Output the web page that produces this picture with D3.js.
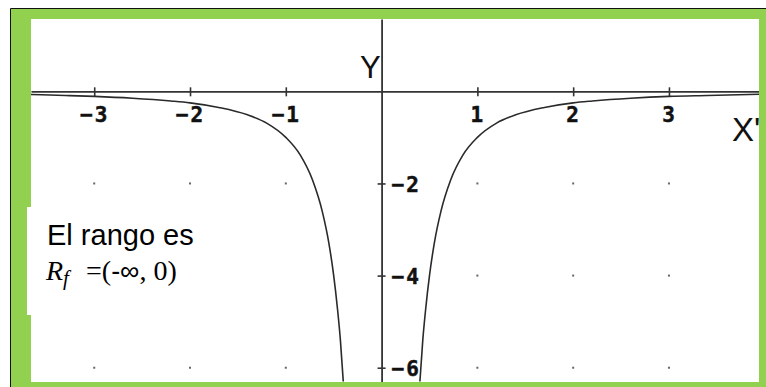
<!DOCTYPE html>
<html>
<head>
<meta charset="utf-8">
<script src="https://cdn.jsdelivr.net/npm/d3@7"></script>
<style>
  body { margin: 0; background: #fff; }
  svg { display: block; }
</style>
</head>
<body>
<svg id="chart" width="766" height="387"></svg>
<script>
// tick values
const xTicks = [-3, -2, -1, 1, 2, 3]
const yTicks = [-2, -4, -6]

// points, left branch (x < 0) and right branch (x > 0)
const leftX = [-3.66, -3.3, -3, -2.6, -2.2, -2, -1.7, -1.4, -1.2, -1, -0.85, -0.72, -0.62, -0.55, -0.5, -0.46, -0.43, -0.4]
const leftY = [-0.07, -0.09, -0.11, -0.15, -0.21, -0.25, -0.35, -0.51, -0.69, -1.0, -1.38, -1.93, -2.6, -3.3, -4.0, -4.73, -5.4, -6.3]
const rightX = [0.4, 0.43, 0.46, 0.5, 0.55, 0.62, 0.72, 0.85, 1, 1.2, 1.4, 1.7, 2, 2.2, 2.6, 3, 3.4, 3.94]
const rightY = [-6.3, -5.4, -4.73, -4.0, -3.3, -2.6, -1.93, -1.38, -1.0, -0.69, -0.51, -0.35, -0.25, -0.21, -0.15, -0.11, -0.09, -0.065]

const svg = d3.select('#chart')

// outer frame: thin black edge, green border, white plot area
svg.append('path')
    .attr('d', 'M10.5,387 V8.5 H766')
    .attr('fill', 'none')
    .attr('stroke', '#111')
    .attr('stroke-width', 1)
svg.append('rect')
    .attr('x', 11).attr('y', 9).attr('width', 755).attr('height', 378)
    .attr('fill', '#92d050')
svg.append('rect')
    .attr('x', 31).attr('y', 19).attr('width', 728).attr('height', 363)
    .attr('fill', '#fff')

let x = d3.scaleLinear().domain([-3.66, 3.94]).range([31, 759]),
    y = d3.scaleLinear().domain([1.57, -6.31]).range([19, 382])

svg.append('clipPath').attr('id', 'plot')
    .append('rect').attr('x', 31).attr('y', 19).attr('width', 728).attr('height', 363)

const g = svg.append('g').attr('clip-path', 'url(#plot)')

// grid dots
let dots = []
xTicks.forEach(a => yTicks.forEach(b => dots.push([a, b])))
g.append('g')
    .selectAll('rect')
    .data(dots)
    .enter()
    .append('rect')
    .attr('x', d => x(d[0]) - 1)
    .attr('y', d => y(d[1]) - 1)
    .attr('width', 2)
    .attr('height', 2)
    .attr('fill', '#666')

// text box (covers part of the border, like the overlay in the original)
svg.append('rect')
    .attr('x', 27).attr('y', 207).attr('width', 283).attr('height', 108)
    .attr('fill', '#fff')

const tickFont = s => s
    .attr('font-family', '"DejaVu Sans Mono", monospace')
    .attr('font-weight', 'bold')
    .attr('font-size', 21)
    .attr('letter-spacing', 2)
    .attr('fill', '#111')
    .attr('stroke', '#111')
    .attr('stroke-width', 0.5)

// axes
let xAxis = g.append('g')
    .attr('transform', `translate(0,${y(0)})`)
    .call(d3.axisBottom(x).tickValues(xTicks).tickSize(5).tickSizeOuter(0))
xAxis.select('.domain').attr('stroke', '#333').attr('stroke-width', 1.8)
xAxis.selectAll('.tick line').attr('y1', -4).attr('stroke', '#333').attr('stroke-width', 1.6)
xAxis.selectAll('.tick text')
    .text(d => d < 0 ? '\u2212' + Math.abs(d) : d)
    .attr('x', 0)
    .attr('y', 31)
    .attr('dy', null)
    .call(tickFont)

let yAxis = g.append('g')
    .attr('transform', `translate(${x(0)},0)`)
    .call(d3.axisRight(y).tickValues(yTicks).tickSize(4).tickSizeOuter(0))
yAxis.select('.domain').attr('stroke', '#333').attr('stroke-width', 1.8)
yAxis.selectAll('.tick line').attr('x1', -4).attr('stroke', '#333').attr('stroke-width', 1.6)
yAxis.selectAll('.tick text')
    .text(d => '\u2212' + Math.abs(d))
    .attr('x', 10)
    .attr('dy', '0.36em')
    .call(tickFont)

// axis names
g.append('text')
    .attr('x', x(0) - 1).attr('y', 78)
    .attr('text-anchor', 'end')
    .style('font-family', '"Liberation Sans", Arial, sans-serif')
    .style('font-size', '31px')
    .attr('fill', '#111')
    .text('Y')
g.append('text')
    .attr('x', 732).attr('y', 141)
    .style('font-family', '"Liberation Sans", Arial, sans-serif')
    .style('font-size', '33px')
    .attr('fill', '#111')
    .text("X'")

// the curve
let line = d3.line()
    .x(d => x(d[0]))
    .y(d => y(d[1]))
    .curve(d3.curveMonotoneX)

const branches = [d3.zip(leftX, leftY), d3.zip(rightX, rightY)]
g.selectAll('path.curve')
    .data(branches)
    .enter()
    .append('path')
    .attr('class', 'curve')
    .attr('fill', 'none')
    .attr('stroke', '#2a2a2a')
    .attr('stroke-width', 1.6)
    .attr('d', line)

// note in the box
svg.append('text')
    .attr('x', 47).attr('y', 245)
    .style('font-family', '"Liberation Sans", Arial, sans-serif')
    .style('font-size', '29px')
    .attr('fill', '#000')
    .text('El rango es')

let note = svg.append('text')
    .attr('y', 280)
    .style('font-family', '"Liberation Serif", "DejaVu Serif", serif')
    .style('font-size', '28px')
    .attr('fill', '#000')
note.append('tspan').attr('x', 46).style('font-style', 'italic').text('R')
note.append('tspan').attr('dy', 5).style('font-style', 'italic').style('font-size', '21px').text('f')
note.append('tspan').attr('x', 86).attr('dy', -5).text('=(')
note.append('tspan').style('font-family', '"Liberation Sans", Arial, sans-serif').style('font-size', '27px').text('-\u221e')
note.append('tspan').text(', 0)')
</script>
</body>
</html>
